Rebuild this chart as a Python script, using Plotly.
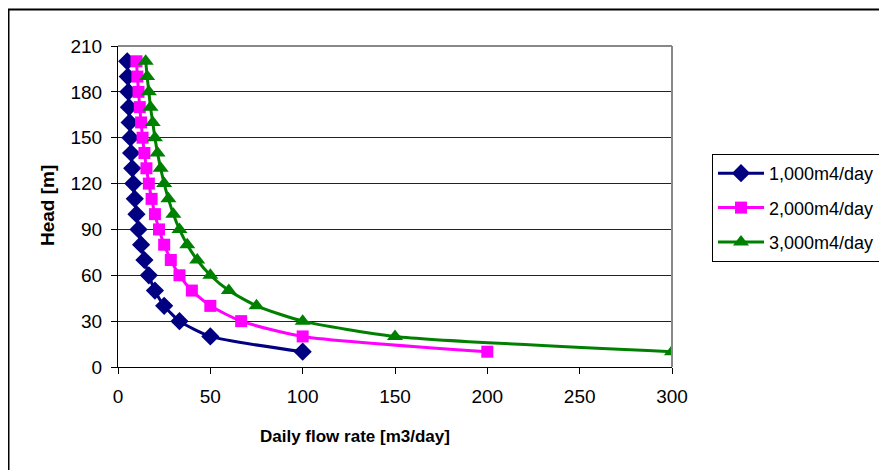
import plotly.graph_objects as go

head = [10, 20, 30, 40, 50, 60, 70, 80, 90, 100, 110, 120, 130, 140, 150, 160, 170, 180, 190, 200]
flow_1000 = [100, 50, 33.3, 25, 20, 16.7, 14.3, 12.5, 11.1, 10, 9.1, 8.3, 7.7, 7.1, 6.7, 6.3, 5.9, 5.6, 5.3, 5]
flow_2000 = [200, 100, 66.7, 50, 40, 33.3, 28.6, 25, 22.2, 20, 18.2, 16.7, 15.4, 14.3, 13.3, 12.5, 11.8, 11.1, 10.5, 10]
flow_3000 = [300, 150, 100, 75, 60, 50, 42.9, 37.5, 33.3, 30, 27.3, 25, 23.1, 21.4, 20, 18.8, 17.6, 16.7, 15.8, 15]
series_names = ["1,000m4/day", "2,000m4/day", "3,000m4/day"]
x_ticks = [0, 50, 100, 150, 200, 250, 300]
y_ticks = [0, 30, 60, 90, 120, 150, 180, 210]

OFF = 8  # page body margin
W, H = 887 - OFF, 470 - OFF

def fx(p):  # reference pixel -> figure pixel
    return p - OFF

L, R = fx(118), W - fx(672)
T, B = fx(46), H - fx(367)
pw, ph = W - L - R, H - T - B

def px_x(p):
    return (fx(p) - L) / pw

def px_y(p):
    return (H - B - fx(p)) / ph

font = "Liberation Sans, Arial, sans-serif"
fig = go.Figure()
styles = [("#000080", "diamond", 14), ("#FF00FF", "square", 12), ("#008000", "triangle-up", 14)]
for i, (name, xs, (c, sym, sz)) in enumerate(zip(series_names, [flow_1000, flow_2000, flow_3000], styles)):
    fig.add_trace(go.Scatter(
        x=xs, y=head, name=name, mode="lines+markers", legendgroup=f"g{i}",
        line=dict(color=c, width=3, shape="spline", smoothing=0.6),
        marker=dict(symbol=sym, size=sz, color=c),
    ))

fig.update_layout(
    width=W, height=H,
    margin=dict(l=L, r=R, t=T, b=B, autoexpand=False),
    paper_bgcolor="white", plot_bgcolor="white",
    font=dict(family=font, size=19, color="black"),
    showlegend=True,
    legend=dict(
        x=px_x(712), y=px_y(154), xanchor="left", yanchor="top",
        bordercolor="black", borderwidth=1, bgcolor="white",
        font=dict(size=18, family=font), tracegroupgap=8, itemwidth=46,
    ),
    xaxis=dict(
        range=[0, 300], tickvals=x_ticks, ticks="outside", ticklen=6, tickcolor="black",
        showline=True, linecolor="black", linewidth=1, showgrid=False, zeroline=False,
        mirror=False, tickfont=dict(size=19), ticklabelstandoff=6,
    ),
    yaxis=dict(
        range=[0, 210], tickvals=y_ticks, ticks="outside", ticklen=6, tickcolor="black",
        showline=True, linecolor="black", linewidth=1, showgrid=True, gridcolor="#222222",
        gridwidth=1, zeroline=False, tickfont=dict(size=19), ticklabelstandoff=5,
    ),
    shapes=[
        dict(type="line", xref="paper", yref="paper", x0=0, x1=1, y0=1, y1=1,
             line=dict(color="#888888", width=2)),
        dict(type="line", xref="paper", yref="paper", x0=1, x1=1, y0=0, y1=1,
             line=dict(color="#888888", width=2)),
        dict(type="rect", xref="paper", yref="paper", x0=px_x(8.5), x1=px_x(900),
             y0=px_y(480), y1=px_y(9.5), line=dict(color="black", width=2)),
    ],
    annotations=[
        dict(text="<b>Head [m]</b>", xref="paper", yref="paper", x=px_x(47), y=px_y(206),
             xanchor="center", yanchor="middle",
             textangle=-90, showarrow=False, font=dict(size=19, family=font)),
        dict(text="<b>Daily flow rate [m3/day]</b>", xref="paper", yref="paper",
             x=px_x(355), y=px_y(436), xanchor="center", yanchor="middle",
             showarrow=False, font=dict(size=17, family=font)),
    ],
)

fig.write_html("out.html")
